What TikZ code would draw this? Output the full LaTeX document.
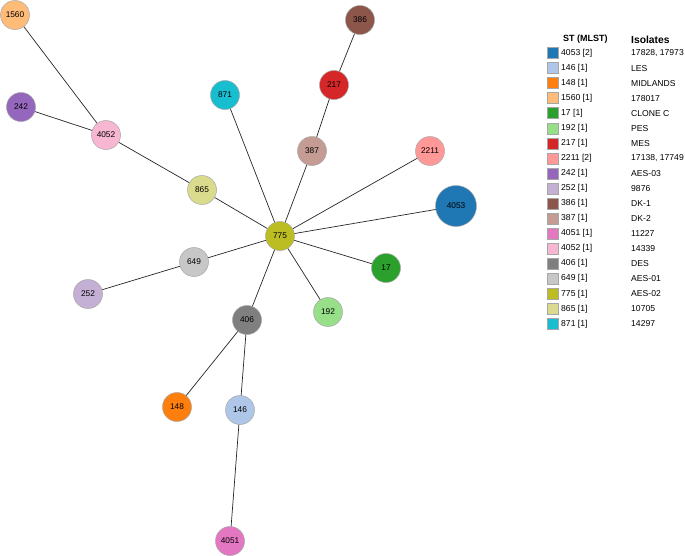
\documentclass[tikz,border=0pt]{standalone}
\usepackage{fontspec}
\setmainfont{Liberation Sans}
\usetikzlibrary{backgrounds}
\definecolor{c4053}{HTML}{1F77B4}
\definecolor{c146}{HTML}{AEC7E8}
\definecolor{c148}{HTML}{FF7F0E}
\definecolor{c1560}{HTML}{FFBB78}
\definecolor{c17}{HTML}{2CA02C}
\definecolor{c192}{HTML}{98DF8A}
\definecolor{c217}{HTML}{D62728}
\definecolor{c2211}{HTML}{FF9896}
\definecolor{c242}{HTML}{9467BD}
\definecolor{c252}{HTML}{C5B0D5}
\definecolor{c386}{HTML}{8C564B}
\definecolor{c387}{HTML}{C49C94}
\definecolor{c4051}{HTML}{E377C2}
\definecolor{c4052}{HTML}{F7B6D2}
\definecolor{c406}{HTML}{7F7F7F}
\definecolor{c649}{HTML}{C7C7C7}
\definecolor{c775}{HTML}{BCBD22}
\definecolor{c865}{HTML}{DBDB8D}
\definecolor{c871}{HTML}{17BECF}
\tikzset{
  st/.style={circle, draw=gray!70, line width=0.5pt, minimum size=29pt, inner sep=0pt, font=\fontsize{8.3}{9}\selectfont},
  big/.style={minimum size=41pt},
  link/.style={draw=black!85, line width=0.7pt},
  swatch/.style={draw=gray!70, line width=0.5pt, minimum size=11pt, inner sep=0pt},
  ltext/.style={anchor=west, inner sep=0pt, font=\fontsize{8.6}{10}\selectfont},
}
\begin{document}
\begin{tikzpicture}[x=1pt,y=-1pt]
\useasboundingbox (0,0) rectangle (685,555);
\node[st, fill=c1560] (n1560) at (15,15) {1560};
\node[st, fill=c242] (n242) at (21,107) {242};
\node[st, fill=c4052] (n4052) at (106,135) {4052};
\node[st, fill=c871] (n871) at (225,95) {871};
\node[st, fill=c386] (n386) at (360,20) {386};
\node[st, fill=c217] (n217) at (334,85) {217};
\node[st, fill=c387] (n387) at (312,151) {387};
\node[st, fill=c2211] (n2211) at (430,151) {2211};
\node[st, fill=c865] (n865) at (202,190) {865};
\node[st, fill=c775] (n775) at (280,236) {775};
\node[st, big, fill=c4053] (n4053) at (456,206) {4053};
\node[st, fill=c649] (n649) at (194,262) {649};
\node[st, fill=c17] (n17) at (386,268) {17};
\node[st, fill=c252] (n252) at (88,294) {252};
\node[st, fill=c192] (n192) at (328,312) {192};
\node[st, fill=c406] (n406) at (247,320) {406};
\node[st, fill=c148] (n148) at (177,407) {148};
\node[st, fill=c146] (n146) at (240,410) {146};
\node[st, fill=c4051] (n4051) at (230,541) {4051};
\begin{scope}[on background layer]
\foreach \a/\b in {n1560/n4052, n242/n4052, n4052/n865, n865/n775, n871/n775,
  n386/n217, n217/n387, n387/n775, n2211/n775, n4053/n775, n17/n775, n192/n775,
  n649/n775, n252/n649, n406/n775, n406/n148, n406/n146, n146/n4051}
  \draw[link] (\a.center) -- (\b.center);
\end{scope}
% legend
\node[anchor=west, inner sep=0pt, font=\bfseries\fontsize{9}{10}\selectfont] (h1) at (563,39.5) {ST (MLST)};
\node[anchor=west, inner sep=0pt, font=\bfseries\fontsize{10.3}{11}\selectfont] (h2) at (631,39.5) {Isolates};
\foreach \st/\cnt/\iso [count=\i from 0] in {4053/2/{17828, 17973}, 146/1/LES, 148/1/MIDLANDS, 1560/1/178017,
  17/1/CLONE C, 192/1/PES, 217/1/MES, 2211/2/{17138, 17749}, 242/1/AES-03, 252/1/9876,
  386/1/DK-1, 387/1/DK-2, 4051/1/11227, 4052/1/14339, 406/1/DES, 649/1/AES-01,
  775/1/AES-02, 865/1/10705, 871/1/14297} {
  \node[swatch, fill=c\st] (sw\i) at (552.5,{53+15.05*\i}) {};
  \node[ltext] (lt\i) at (561,{53+15.05*\i}) {\st\ [\cnt]};
  \node[ltext] (li\i) at (631,{53+15.05*\i}) {\iso};
}
\end{tikzpicture}
\end{document}
